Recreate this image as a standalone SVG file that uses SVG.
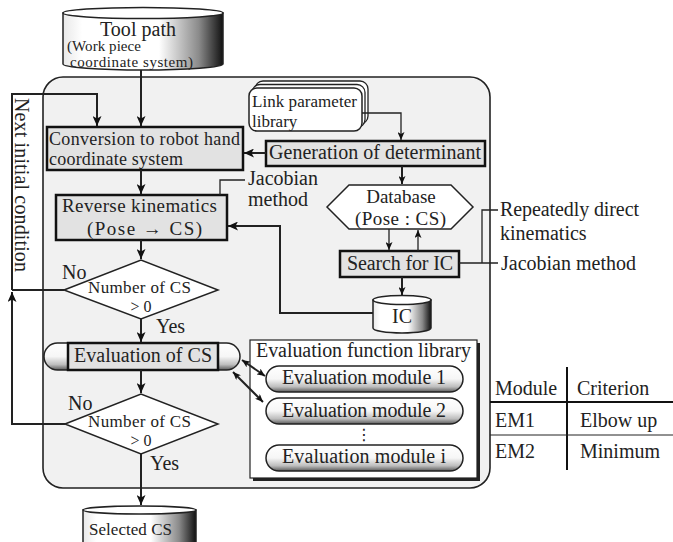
<svg xmlns="http://www.w3.org/2000/svg" width="673" height="542" viewBox="0 0 673 542">
<style>
text{font-family:"Liberation Serif","Times New Roman",serif;font-size:20px;fill:#222}
.box{fill:#e2e2e2;stroke:#111;stroke-width:2.5}
.ln{fill:none;stroke:#222;stroke-width:2}
.thin{fill:none;stroke:#222;stroke-width:1.3}
.ar{marker-end:url(#ah)}
.mid{text-anchor:middle}
</style>
<defs>
<marker id="ah" markerUnits="userSpaceOnUse" markerWidth="10" markerHeight="9" refX="10" refY="4.5" orient="auto-start-reverse"><path d="M0,0 L10,4.5 L0,9 L2.5,4.5 z" fill="#111"/></marker>
<marker id="ahs" markerUnits="userSpaceOnUse" markerWidth="8" markerHeight="7" refX="8" refY="3.5" orient="auto-start-reverse"><path d="M0,0 L8,3.5 L0,7 L2,3.5 z" fill="#111"/></marker>
<linearGradient id="cyl" x1="0" y1="0" x2="1" y2="0"><stop offset="0" stop-color="#e8e8e8"/><stop offset="0.12" stop-color="#fff"/><stop offset="0.6" stop-color="#fff"/><stop offset="0.85" stop-color="#8a8a8a"/><stop offset="1" stop-color="#111"/></linearGradient>
<linearGradient id="cap" x1="0" y1="0" x2="0" y2="1"><stop offset="0" stop-color="#fff"/><stop offset="0.5" stop-color="#f6f6f6"/><stop offset="0.8" stop-color="#bdbdbd"/><stop offset="1" stop-color="#5a5a5a"/></linearGradient>
</defs>

<g id="frame"><rect x="43" y="77" width="447" height="411" rx="20" fill="#f1f1f1" stroke="#222" stroke-width="1.6"/></g>

<g id="toolpath">
<path d="M63,13 L63,64 A80,6 0 0 0 223,64 L223,13 Z" fill="url(#cyl)" stroke="#222" stroke-width="1.5"/>
<ellipse cx="143" cy="13" rx="80" ry="5.5" fill="#fff" stroke="#222" stroke-width="1.5"/>
<text x="100" y="36" textLength="76">Tool path</text>
<text x="67" y="51" style="font-size:15px" textLength="74">(Work piece</text>
<text x="70" y="67" style="font-size:15px" textLength="123">coordinate  system)</text>
</g>

<g id="linklib">
<rect x="255" y="81" width="113" height="43" rx="8" fill="#fff" stroke="#222" stroke-width="1.3"/>
<rect x="252" y="84.5" width="113" height="43" rx="8" fill="#fff" stroke="#222" stroke-width="1.3"/>
<rect x="249" y="88" width="113" height="43" rx="8" fill="#fff" stroke="#222" stroke-width="1.5"/>
<text x="252" y="107" style="font-size:17px" textLength="105">Link parameter</text>
<text x="252" y="127" style="font-size:17px">library</text>
</g>

<g id="conversion">
<rect class="box" x="47" y="127" width="196" height="43"/>
<text x="49" y="145" style="font-size:18px" textLength="191">Conversion to robot hand</text>
<text x="49" y="165" style="font-size:18px" textLength="134">coordinate system</text>
</g>

<g id="generation">
<rect class="box" x="266" y="141" width="219" height="25"/>
<text x="269" y="159" textLength="212">Generation of determinant</text>
</g>

<g id="reverse">
<rect class="box" x="56" y="195" width="171" height="45"/>
<text x="62" y="212" style="font-size:19px" textLength="155">Reverse kinematics</text>
<text x="87" y="235" style="font-size:19px" textLength="115">(Pose → CS)</text>
</g>

<g id="jacobian1">
<text x="248" y="185">Jacobian</text>
<text x="248" y="206">method</text>
</g>

<g id="database">
<polygon points="327,207 349,185 451,185 473,207 451,229 349,229" fill="#fff" stroke="#222" stroke-width="1.5"/>
<text class="mid" x="401" y="203" style="font-size:19px">Database</text>
<text x="355" y="225" style="font-size:19px" textLength="91">(Pose : CS)</text>
</g>

<g id="search">
<rect class="box" x="340" y="251" width="119" height="26"/>
<text x="347" y="270" textLength="106">Search for IC</text>
</g>

<g id="searchnotes">
<text x="500" y="216" textLength="139">Repeatedly direct</text>
<text x="500" y="240">kinematics</text>
<text x="501" y="270">Jacobian method</text>
</g>

<g id="ic">
<path d="M373,300 L373,328 A29,5 0 0 0 431,328 L431,300 Z" fill="url(#cyl)" stroke="#222" stroke-width="1.5"/>
<ellipse cx="402" cy="300" rx="29" ry="4.5" fill="#fff" stroke="#222" stroke-width="1.5"/>
<text class="mid" x="402" y="323">IC</text>
</g>

<g id="decision1">
<polygon points="64,290 141,260 218,290 141,319" fill="#fff" stroke="#222" stroke-width="1.5"/>
<text x="88" y="293" style="font-size:17px" textLength="103">Number of CS</text>
<text class="mid" x="141" y="312" style="font-size:16px">&gt; 0</text>
<text x="62" y="279">No</text>
<text x="156" y="333">Yes</text>
</g>

<g id="evalcs">
<rect x="44" y="343" width="196" height="27" rx="13.5" fill="url(#cap)" stroke="#222" stroke-width="1.5"/>
<rect class="box" x="68" y="343" width="150" height="27"/>
<text x="74" y="362" textLength="138">Evaluation of CS</text>
</g>

<g id="evallib">
<rect x="253" y="343" width="227" height="138" fill="#222"/>
<rect x="250" y="340" width="227" height="138" fill="#fff" stroke="#222" stroke-width="1.2"/>
<text x="256" y="357" textLength="215">Evaluation function library</text>
</g>

<g id="module1">
<rect x="266" y="366" width="197" height="26" rx="13" fill="url(#cap)" stroke="#222" stroke-width="1.5"/>
<text class="mid" x="364" y="384" textLength="164">Evaluation module 1</text>
</g>
<g id="module2">
<rect x="266" y="398" width="197" height="26" rx="13" fill="url(#cap)" stroke="#222" stroke-width="1.5"/>
<text class="mid" x="364" y="417" textLength="164">Evaluation module 2</text>
</g>
<g id="dots"><text class="mid" x="364" y="440" style="font-size:16px;font-family:'DejaVu Sans',sans-serif">⋮</text></g>
<g id="modulei">
<rect x="266" y="445" width="197" height="26" rx="13" fill="url(#cap)" stroke="#222" stroke-width="1.5"/>
<text class="mid" x="364" y="463" textLength="164">Evaluation module i</text>
</g>

<g id="decision2">
<polygon points="65,424 141,394 218,424 141,454" fill="#fff" stroke="#222" stroke-width="1.5"/>
<text x="88" y="427" style="font-size:17px" textLength="103">Number of CS</text>
<text class="mid" x="141" y="446" style="font-size:16px">&gt; 0</text>
<text x="68" y="410">No</text>
<text x="150" y="470">Yes</text>
</g>

<g id="selected">
<path d="M83,510 L83,550 L196,550 L196,510 Z" fill="url(#cyl)" stroke="#222" stroke-width="1.5"/>
<ellipse cx="139.5" cy="510" rx="56.5" ry="4" fill="#fff" stroke="#222" stroke-width="1.5"/>
<text x="89" y="535" style="font-size:17px" textLength="83">Selected CS</text>
</g>

<g id="nextinit">
<text transform="translate(15,98) rotate(90)" textLength="174">Next initial condition</text>
</g>

<g id="table">
<line x1="567" y1="367" x2="567" y2="470" stroke="#111" stroke-width="2"/>
<line x1="490" y1="402" x2="673" y2="402" stroke="#111" stroke-width="2"/>
<line x1="490" y1="435" x2="673" y2="435" stroke="#222" stroke-width="1"/>
<text x="495" y="395">Module</text>
<text x="577" y="395">Criterion</text>
<text x="495" y="427">EM1</text>
<text x="580" y="427">Elbow up</text>
<text x="495" y="458">EM2</text>
<text x="580" y="458">Minimum</text>
</g>

<g id="connectors">
<line class="ln ar" x1="141" y1="70" x2="141" y2="126"/>
<path class="ln ar" d="M12,290 L12,94 L97,94 L97,126"/>
<path class="ln" d="M64,290 L12,290"/>
<path class="ln ar" d="M65,424 L12,424 L12,292"/>
<path class="thin" d="M362,113 L401,113 L401,140" marker-end="url(#ahs)"/>
<line class="ln ar" x1="266" y1="153" x2="244" y2="153"/>
<line class="ln ar" x1="141" y1="170" x2="141" y2="194"/>
<path class="thin" d="M220,195 L220,180 L245,180"/>
<line class="ln" x1="402" y1="166" x2="402" y2="184" marker-end="url(#ahs)"/>
<line class="thin" x1="389" y1="229" x2="389" y2="250" marker-end="url(#ahs)"/>
<line class="thin" x1="418" y1="251" x2="418" y2="230" marker-end="url(#ahs)"/>
<path class="thin" d="M459,263 L482,263 M498,210 L482,210 L482,263 L498,263"/>
<line class="ln" x1="402" y1="277" x2="402" y2="295" marker-end="url(#ahs)"/>
<path class="ln ar" d="M373,313 L280,313 L280,226 L228,226"/>
<line class="ln ar" x1="141" y1="240" x2="141" y2="259"/>
<line class="ln ar" x1="141" y1="319" x2="141" y2="342"/>
<line class="ln ar" x1="141" y1="370" x2="141" y2="393"/>
<line class="ln ar" x1="141" y1="454" x2="141" y2="505"/>
<line class="ln" x1="242" y1="360" x2="265" y2="376" marker-start="url(#ahs)" marker-end="url(#ahs)"/>
<line class="ln" x1="233" y1="372" x2="263" y2="402" marker-start="url(#ahs)" marker-end="url(#ahs)"/>
</g>
</svg>
